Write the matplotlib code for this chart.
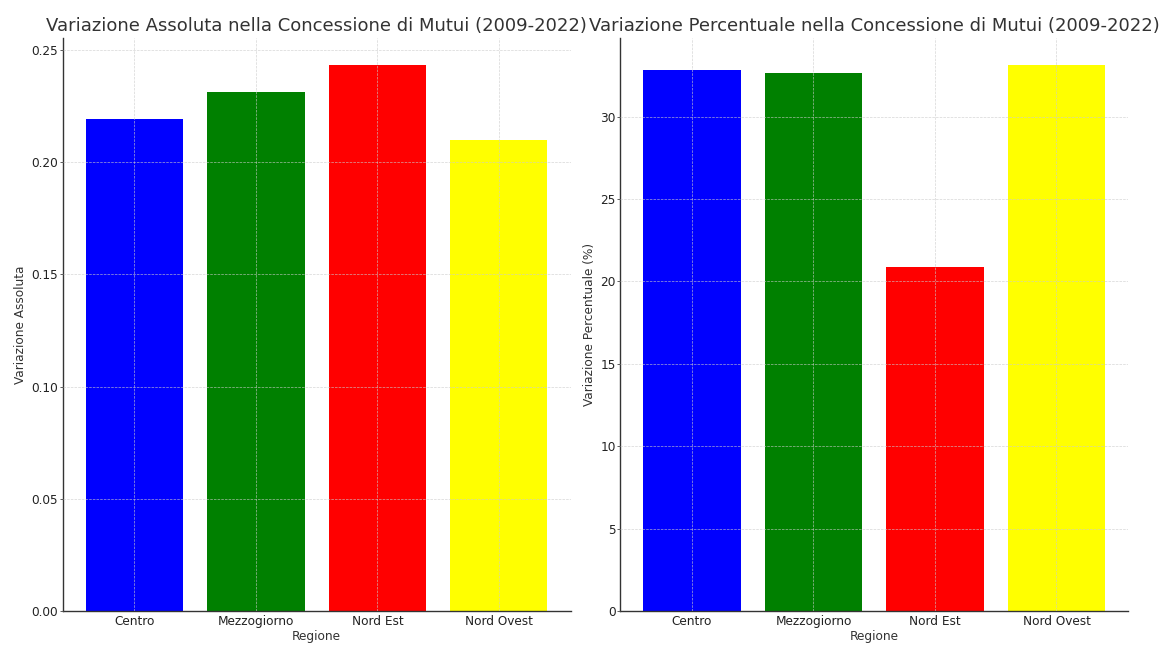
import matplotlib
matplotlib.use("Agg")
import matplotlib.pyplot as plt

regioni = ["Centro", "Mezzogiorno", "Nord Est", "Nord Ovest"]
variazione_assoluta = [0.219, 0.231, 0.243, 0.210]
variazione_percentuale = [32.8, 32.65, 20.87, 33.1]
colori = ["blue", "green", "red", "yellow"]

plt.rcParams['font.family'] = ['DejaVu Sans']
text_color = '#333333'
DPI = 1163 / 14

fig, axes = plt.subplots(1, 2, figsize=(14, 646 / DPI), dpi=DPI)
fig.subplots_adjust(left=0.054, right=0.970, bottom=0.054, top=0.941, wspace=0.098)

panels = [
    (axes[0], variazione_assoluta, "Variazione Assoluta nella Concessione di Mutui (2009-2022)", "Variazione Assoluta"),
    (axes[1], variazione_percentuale, "Variazione Percentuale nella Concessione di Mutui (2009-2022)", "Variazione Percentuale (%)"),
]
for ax, vals, title, ylabel in panels:
    ax.bar(regioni, vals, color=colori, width=0.8)
    ax.set_title(title, fontsize=15.6, color=text_color, pad=6)
    ax.set_xlabel("Regione", fontsize=10.5, color=text_color, labelpad=2)
    ax.set_ylabel(ylabel, fontsize=10.5, color=text_color)
    ax.set_axisbelow(False)
    ax.grid(True, linestyle='--', linewidth=0.6, color='#cccccc', alpha=0.8)
    ax.tick_params(axis='x', length=0, labelsize=10.5, labelcolor='#222222', pad=3)
    ax.tick_params(axis='y', length=2.5, width=0.8, color='#555555', labelsize=10.5, labelcolor='#222222', pad=1.5)
    for s in ['top', 'right']:
        ax.spines[s].set_visible(False)
    for s in ['left', 'bottom']:
        ax.spines[s].set_color('#333333')
        ax.spines[s].set_linewidth(1.2)

fig.savefig("out.png", dpi=DPI)
